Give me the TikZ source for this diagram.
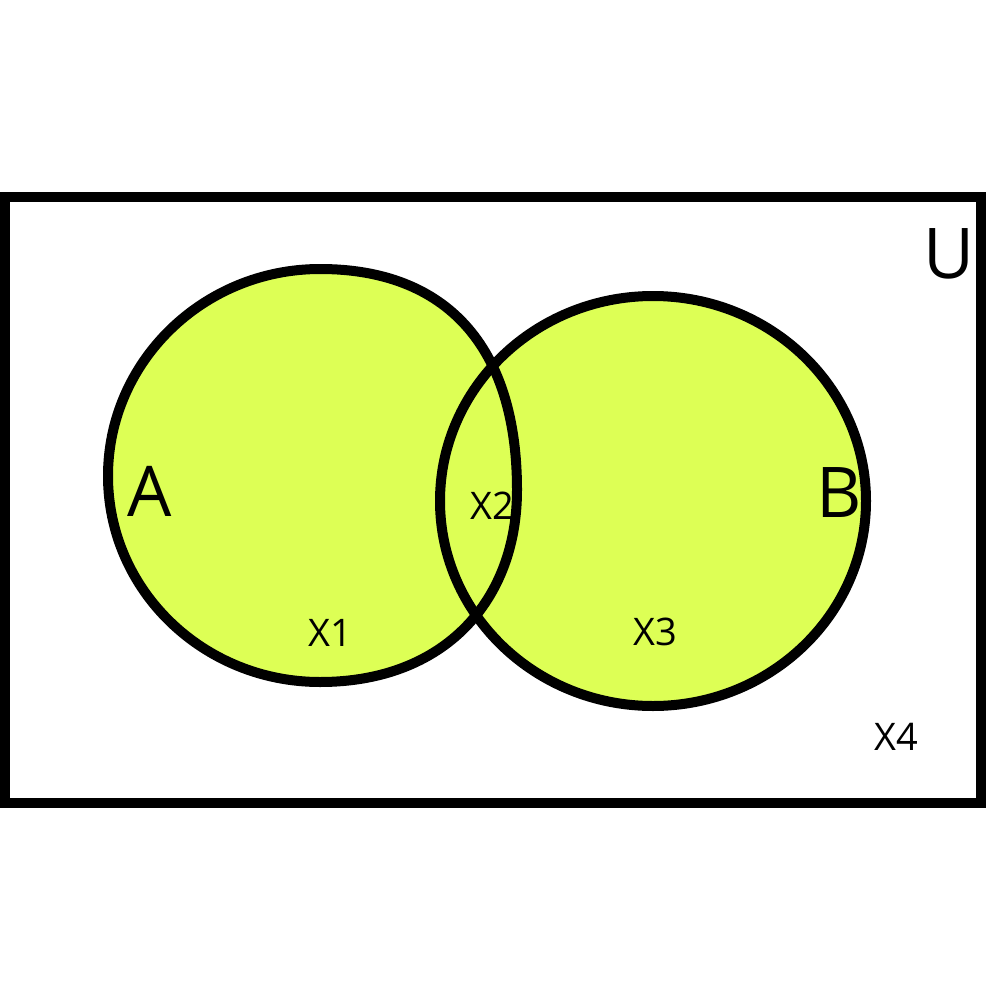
\documentclass[tikz,border=0pt]{standalone}
\usepackage{fontspec}
\setmainfont{Open Sans}
\definecolor{setfill}{RGB}{221,255,85}
\tikzset{
  setshape/.style={line width=10pt, draw=black},
  small/.style={inner sep=0pt, font=\fontsize{38}{40}\selectfont},
  big/.style={inner sep=0pt, font=\fontsize{70}{72}\selectfont},
}
\begin{document}
\begin{tikzpicture}[x=1pt,y=-1pt]
\useasboundingbox (0,0) rectangle (992,1000);
\fill[white] (0,0) rectangle (992,1000);
\draw[line width=10pt] (5,197) rectangle (981,803);
\def\shapeA{(108,476) .. controls (108,362) and (203,269) .. (320,269)
  .. controls (445,269) and (517,345) .. (517,490)
  .. controls (517,600) and (445,682) .. (320,682)
  .. controls (203,682) and (108,590) .. (108,476) -- cycle}
\fill[setfill] \shapeA;
\fill[setfill] (653,501) ellipse [x radius=213, y radius=205];
\draw[setshape] \shapeA;
\draw[setshape] (653,501) ellipse [x radius=213, y radius=205];
\node[big] (lA) at (150,491) {A};
\node[big] (lB) at (839,493) {B};
\node[big] (lU) at (949,254) {U};
\node[small] (x1) at (330,633) {X1};
\node[small] (x2) at (492,506) {X2};
\node[small] (x3) at (655,632) {X3};
\node[small] (x4) at (896,737) {X4};
\end{tikzpicture}
\end{document}
